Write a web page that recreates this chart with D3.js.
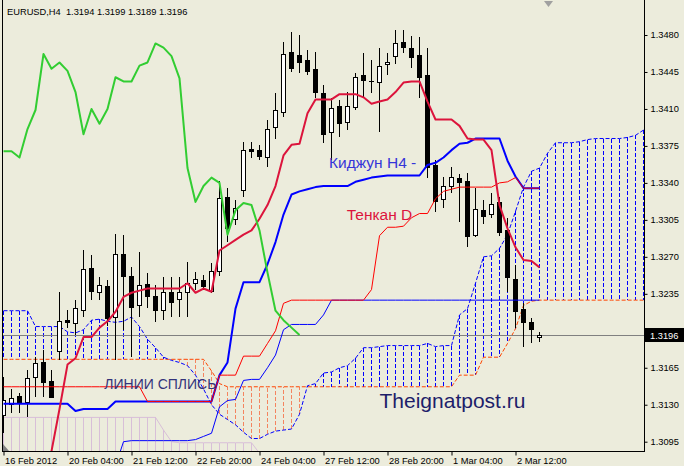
<!DOCTYPE html>
<html><head><meta charset="utf-8">
<script src="https://cdn.jsdelivr.net/npm/d3@7"></script>
<style>html,body{margin:0;padding:0;background:#ECECDC;overflow:hidden}</style>
</head><body><svg id="c" width="684" height="466"></svg>
<script>
// ---------- data ----------
const title = "EURUSD,H4  1.3194 1.3199 1.3189 1.3196";
const timeLabels = ["16 Feb 2012","20 Feb 04:00","21 Feb 12:00","22 Feb 20:00","24 Feb 04:00","27 Feb 12:00","28 Feb 20:00","1 Mar 04:00","2 Mar 12:00"];
const timeLabelBars = [0,8,16,24,32,40,48,56,64];
const priceTicks = [1.3480,1.3445,1.3410,1.3375,1.3340,1.3305,1.3270,1.3235,1.3200,1.3165,1.3130,1.3095];
const hiddenTick = 1.3200;   // covered by the bid label in the original
const bidPrice = 1.3196;

const open = [1.3120,1.3130,1.3138,1.3132,1.3156,1.3170,1.3152,1.3180,1.3210,1.3207,
1.3219,1.3259,1.3236,1.3242,1.3213,1.3272,1.3251,1.3224,1.3244,1.3232,
1.3219,1.3236,1.3230,1.3236,1.3245,1.3248,1.3237,1.3256,1.3326,1.3305,
1.3333,1.3372,1.3371,1.3364,1.3392,1.3407,1.3463,1.3461,1.3456,1.3447,
1.3425,1.3388,1.3412,1.3397,1.3411,1.3442,1.3436,1.3435,1.3452,1.3460,
1.3473,1.3467,1.3461,1.3442,1.3356,1.3324,1.3337,1.3344,1.3341,1.3290,
1.3314,1.3310,1.3321,1.3295,1.3249,1.3220,1.3208,1.3194];
const high = [1.3156,1.3145,1.3141,1.3163,1.3175,1.3182,1.3163,1.3237,1.3220,1.3229,
1.3276,1.3272,1.3251,1.3248,1.3292,1.3291,1.3260,1.3275,1.3255,1.3243,
1.3251,1.3251,1.3251,1.3265,1.3256,1.3253,1.3264,1.3342,1.3335,1.3324,
1.3379,1.3379,1.3376,1.3400,1.3425,1.3473,1.3483,1.3480,1.3466,1.3464,
1.3433,1.3420,1.3418,1.3426,1.3444,1.3463,1.3456,1.3468,1.3463,1.3485,
1.3485,1.3479,1.3478,1.3468,1.3362,1.3346,1.3355,1.3348,1.3349,1.3335,
1.3324,1.3330,1.3327,1.3307,1.3262,1.3226,1.3212,1.3199];
const low = [1.3103,1.3122,1.3122,1.3118,1.3137,1.3137,1.3136,1.3172,1.3203,1.3196,
1.3213,1.3229,1.3229,1.3205,1.3172,1.3201,1.3175,1.3213,1.3222,1.3208,
1.3210,1.3213,1.3213,1.3213,1.3239,1.3239,1.3236,1.3252,1.3284,1.3300,
1.3327,1.3364,1.3362,1.3355,1.3382,1.3402,1.3445,1.3444,1.3442,1.3420,
1.3378,1.3362,1.3383,1.3390,1.3409,1.3421,1.3425,1.3388,1.3442,1.3453,
1.3463,1.3449,1.3420,1.3345,1.3312,1.3316,1.3330,1.3303,1.3279,1.3289,
1.3301,1.3307,1.3290,1.3237,1.3203,1.3185,1.3188,1.3189];
const close = [1.3134,1.3136,1.3131,1.3155,1.3169,1.3151,1.3137,1.3209,1.3208,1.3221,
1.3258,1.3237,1.3243,1.3212,1.3272,1.3251,1.3222,1.3243,1.3232,1.3219,
1.3236,1.3227,1.3236,1.3245,1.3249,1.3242,1.3256,1.3325,1.3297,1.3316,
1.3371,1.3370,1.3365,1.3391,1.3409,1.3462,1.3448,1.3454,1.3445,1.3426,
1.3386,1.3410,1.3396,1.3412,1.3440,1.3437,1.3436,1.3450,1.3454,1.3472,
1.3468,1.3459,1.3440,1.3355,1.3322,1.3337,1.3345,1.3340,1.3289,1.3315,
1.3308,1.3320,1.3293,1.3250,1.3218,1.3208,1.3201,1.3196];

// Ichimoku H4
const tenkanH4 = [null,null,null,null,null,1.3047,1.3086,1.3126,1.3168,1.3174,
1.3194,1.3194,1.3203,1.3209,1.3218,1.3232,1.3236,1.3238,1.3240,1.3240,
1.3240,1.3240,1.3240,1.3245,1.3236,1.3240,1.3237,1.3276,1.3281,1.3286,
1.3291,1.3295,1.3306,1.3319,1.3337,1.3366,1.3376,1.3377,1.3406,1.3419,
1.3419,1.3419,1.3424,1.3424,1.3424,1.3421,1.3415,1.3417,1.3419,1.3426,
1.3435,1.3436,1.3436,1.3417,1.3400,1.3400,1.3400,1.3394,1.3382,1.3381,
1.3381,1.3371,1.3319,1.3297,1.3279,1.3267,1.3266,1.3260];
const kijunH4 = [1.3131,1.3131,1.3131,1.3131,1.3131,1.3131,1.3131,1.3131,1.3131,1.3124,
1.3126,1.3126,1.3126,1.3126,1.3133,1.3133,1.3133,1.3133,1.3133,1.3133,
1.3133,1.3133,1.3133,1.3133,1.3133,1.3133,1.3133,1.3158,1.3170,1.3221,
1.3246,1.3246,1.3246,1.3263,1.3284,1.3310,1.3329,1.3332,1.3334,1.3336,
1.3337,1.3337,1.3337,1.3337,1.3341,1.3343,1.3345,1.3346,1.3347,1.3347,
1.3347,1.3347,1.3347,1.3357,1.3359,1.3364,1.3371,1.3377,1.3378,1.3382,
1.3382,1.3382,1.3382,1.3361,1.3346,1.3335,1.3335,1.3335];
const chikou = [1.3370,1.3370,1.3364,1.3391,1.3409,1.3462,1.3448,1.3454,1.3446,1.3426,
1.3386,1.3410,1.3396,1.3410,1.3440,1.3436,1.3436,1.3451,1.3454,1.3472,
1.3468,1.3460,1.3439,1.3354,1.3322,1.3337,1.3345,1.3340,1.3291,1.3314,
1.3321,1.3319,1.3295,1.3255,1.3219,1.3210,1.3203,1.3196];
const senkouA = [1.3219,1.3219,1.3219,1.3219,1.3204,1.3204,1.3204,1.3204,1.3199,1.3198,
1.3201,1.3210,1.3211,1.3209,1.3208,1.3209,1.3213,1.3204,1.3192,1.3184,
1.3175,1.3172,1.3170,1.3167,1.3158,1.3145,1.3130,1.3121,1.3116,1.3111,
1.3104,1.3098,1.3098,1.3102,1.3105,1.3106,1.3107,1.3121,1.3148,1.3150,
1.3160,1.3161,1.3165,1.3167,1.3174,1.3184,1.3184,1.3185,1.3186,1.3186,
1.3186,1.3186,1.3186,1.3188,1.3185,1.3186,1.3186,1.3215,1.3221,1.3245,
1.3270,1.3271,1.3278,1.3291,1.3313,1.3336,1.3351,1.3354,1.3368,1.3378,
1.3378,1.3378,1.3379,1.3381,1.3382,1.3382,1.3382,1.3382,1.3383,1.3385,1.3390];
const senkouB = [1.3173,1.3173,1.3173,1.3173,1.3173,1.3173,1.3173,1.3173,1.3173,1.3173,
1.3173,1.3173,1.3173,1.3173,1.3173,1.3173,1.3173,1.3173,1.3173,1.3173,
1.3173,1.3173,1.3173,1.3173,1.3173,1.3173,1.3162,1.3150,1.3147,1.3147,
1.3147,1.3147,1.3147,1.3147,1.3147,1.3147,1.3147,1.3147,1.3147,1.3147,
1.3147,1.3147,1.3147,1.3147,1.3147,1.3147,1.3147,1.3147,1.3147,1.3147,
1.3147,1.3147,1.3147,1.3147,1.3147,1.3147,1.3147,1.3158,1.3158,1.3158,
1.3175,1.3175,1.3175,1.3188,1.3202,1.3224,1.3228,1.3229,1.3229,1.3229,
1.3229,1.3229,1.3229,1.3229,1.3229,1.3229,1.3229,1.3229,1.3229,1.3229,1.3229];

// Ichimoku D (projected)
const tenkanD = [1.3147,1.3147,1.3147,1.3147,1.3147,1.3147,1.3147,1.3147,1.3147,1.3147,
1.3147,1.3147,1.3147,1.3147,1.3147,1.3147,1.3147,1.3147,1.3133,1.3133,
1.3133,1.3133,1.3133,1.3133,1.3133,1.3133,1.3133,1.3158,1.3158,1.3158,
1.3176,1.3176,1.3176,1.3188,1.3200,1.3226,1.3229,1.3229,1.3229,1.3229,
1.3229,1.3229,1.3229,1.3229,1.3229,1.3229,1.3239,1.3290,1.3298,1.3298,
1.3299,1.3307,1.3311,1.3311,1.3325,1.3332,1.3334,1.3336,1.3336,1.3336,
1.3336,1.3336,1.3340,1.3341,1.3345,1.3335,1.3335,1.3335];
const kijunD = [null,null,null,null,null,null,null,null,null,null,
null,null,null,null,1.3072,1.3095,1.3096,1.3096,1.3096,1.3096,
1.3096,1.3096,1.3096,1.3096,1.3097,1.3100,1.3103,1.3128,1.3134,1.3135,
1.3153,1.3154,1.3154,1.3165,1.3177,1.3201,1.3206,1.3206,1.3206,1.3206,
1.3215,1.3229,1.3229,1.3229,1.3229,1.3229,1.3229,1.3229,1.3229,1.3229,
1.3229,1.3229,1.3229,1.3229,1.3229,1.3229,1.3229,1.3229,1.3229,1.3229,
1.3229,1.3229,1.3229,1.3229,1.3229,1.3229,1.3229,1.3229];
const cloudDTop = [1.3118,1.3118,1.3118,1.3118,1.3118,1.3118,1.3118,1.3118,1.3118,1.3118,
1.3118,1.3118,1.3118,1.3118,1.3118,1.3118,1.3118,1.3118,1.3118,1.3118,
1.3106,1.3095,1.3094,1.3094,1.3094,1.3094,1.3094,1.3094,1.3094,1.3094,
1.3094,1.3094,1.3084,1.3068];
const cloudDBottom = [1.3060,1.3060,1.3060,1.3060,1.3060,1.3060,1.3060,1.3060,1.3060,1.3060,
1.3060,1.3060,1.3060,1.3060,1.3060,1.3060,1.3060,1.3060,1.3060,1.3060,
1.3060,1.3060,1.3060,1.3060,1.3060,1.3060,1.3060,1.3060,1.3060,1.3060,
1.3060,1.3060,1.3060,1.3060];

const notes = [
  {text:"Киджун H4 -", bar:40.7, price:1.3354, size:15.5, color:"#3535d8"},
  {text:"Тенкан D", bar:42.9, price:1.3305, size:15.5, color:"#dc143c"},
  {text:"ЛИНИИ СПЛИСЬ", bar:12.6, price:1.3145, size:14, color:"#33337a"},
  {text:"Theignatpost.ru", bar:47, price:1.3127, size:21, color:"#1e1e6a"}
];

// ---------- drawing ----------
const BG = "#ECECDC";
const FONT = "Liberation Sans, Arial, sans-serif";
const svg = d3.select("#c");
svg.append("rect").attr("width",684).attr("height",466).attr("fill",BG);

const x = d3.scaleLinear().domain([0,80]).range([3.5,643.5]);
const y = d3.scaleLinear().domain([1.3095,1.3480]).range([441.7,35]);

svg.append("clipPath").attr("id","plot").append("rect")
  .attr("x",3).attr("y",0).attr("width",641).attr("height",451);
const g = svg.append("g").attr("clip-path","url(#plot)");

// daily cloud (thistle)
const dCloud = g.append("g").attr("shape-rendering","crispEdges");
cloudDTop.forEach((v,i)=>{
  dCloud.append("line").attr("x1",x(i)).attr("x2",x(i))
    .attr("y1",y(v)).attr("y2",y(cloudDBottom[i]))
    .attr("stroke","#D8BFD8").attr("stroke-width",1);
});
g.append("path").datum(cloudDTop)
  .attr("d",d3.line().x((d,i)=>x(i)).y(d=>y(d)))
  .attr("fill","none").attr("stroke","#D8BFD8").attr("stroke-width",1);

// H4 cloud hatch
const hatch = g.append("g").attr("shape-rendering","crispEdges");
senkouA.forEach((a,i)=>{
  const b = senkouB[i];
  hatch.append("line").attr("x1",x(i)).attr("x2",x(i))
    .attr("y1",y(a)).attr("y2",y(b))
    .attr("stroke", a>=b ? "#0000FF" : "#F4845F")
    .attr("stroke-width",1).attr("stroke-dasharray","4,2");
});
const lineGen = d3.line().defined(d=>d!=null).x((d,i)=>x(i)).y(d=>y(d));
function drawLine(data,color,w,dash){
  const p = g.append("path").datum(data).attr("d",lineGen)
    .attr("fill","none").attr("stroke",color).attr("stroke-width",w)
    .attr("stroke-linejoin","round");
  if(dash) p.attr("stroke-dasharray",dash);
  return p;
}
drawLine(senkouB,"#FF4500",1,"4,2");
drawLine(senkouA,"#0000FF",1,"4,2");

// bid line
g.append("line").attr("x1",3).attr("x2",644).attr("y1",Math.round(y(bidPrice))+0.5).attr("y2",Math.round(y(bidPrice))+0.5)
  .attr("stroke","#808080").attr("stroke-width",1);

// candles
const cg = g.append("g").attr("shape-rendering","crispEdges");
open.forEach((o,i)=>{
  const c = close[i], cx = x(i);
  cg.append("line").attr("x1",cx).attr("x2",cx).attr("y1",y(high[i])).attr("y2",y(low[i]))
    .attr("stroke","#000").attr("stroke-width",1);
  const top = y(Math.max(o,c)), bot = y(Math.min(o,c));
  if (c>o) {
    cg.append("rect").attr("x",cx-2).attr("y",top).attr("width",4).attr("height",Math.max(1,bot-top))
      .attr("fill","#fff").attr("stroke","#000").attr("stroke-width",1);
  } else {
    cg.append("rect").attr("x",cx-2.5).attr("y",top-0.5).attr("width",5).attr("height",Math.max(1,bot-top+1))
      .attr("fill","#000");
  }
});

// lines
drawLine(kijunD,"#0000FF",1);
drawLine(kijunH4,"#0000FF",2);
drawLine(tenkanD,"#FF0000",1);
drawLine(tenkanH4,"#DC143C",2);
drawLine(chikou,"#32CD32",2);

// notes
notes.forEach(n=>{
  svg.append("text").attr("x",x(n.bar)).attr("y",y(n.price))
    .attr("font-family",FONT).attr("font-size",n.size)
    .attr("fill",n.color).text(n.text);
});

// frame
svg.append("line").attr("x1",2.5).attr("x2",2.5).attr("y1",0).attr("y2",452).attr("stroke","#000");
svg.append("line").attr("x1",2).attr("x2",645).attr("y1",451.5).attr("y2",451.5).attr("stroke","#000");
svg.append("line").attr("x1",644.5).attr("x2",644.5).attr("y1",0).attr("y2",452).attr("stroke","#000");
// bottom-left corner marker
svg.append("path").attr("d","M3,444 L3,451 L9,451 Z").attr("fill","#808080");

// axes
const ya = svg.append("g").attr("transform","translate(644.5,0)")
  .call(d3.axisRight(y).tickValues(priceTicks)
    .tickFormat(d => d===hiddenTick ? "" : d3.format(".4f")(d)).tickSize(3).tickPadding(3));
ya.select(".domain").remove();
ya.selectAll("text").attr("font-family",FONT).attr("font-size",9.3).attr("fill","#000");
ya.selectAll("line").attr("stroke","#000");

const xa = svg.append("g").attr("transform","translate(0,451.5)")
  .call(d3.axisBottom(x).tickValues(timeLabelBars).tickFormat((d,i)=>timeLabels[i]).tickSize(4).tickPadding(2));
xa.select(".domain").remove();
xa.selectAll("text").attr("text-anchor","start").attr("dx",1)
  .attr("font-family",FONT).attr("font-size",9.3).attr("fill","#000");
xa.selectAll("line").attr("stroke","#000");

// bid label
const by = y(bidPrice);
svg.append("rect").attr("x",645).attr("y",by-7).attr("width",39).attr("height",14).attr("fill","#000");
svg.append("text").attr("x",650).attr("y",by+3.5).attr("font-family",FONT)
  .attr("font-size",9.3).attr("fill","#fff").text(d3.format(".4f")(bidPrice));

// title
svg.append("text").attr("x",7).attr("y",14.5).attr("font-family",FONT)
  .attr("font-size",9.3).attr("fill","#000").style("white-space","pre").text(title);

// chart shift marker
svg.append("path").attr("d","M544,1 L553,1 L548.5,7 Z").attr("fill","#A0A0A0");
</script></body></html>
